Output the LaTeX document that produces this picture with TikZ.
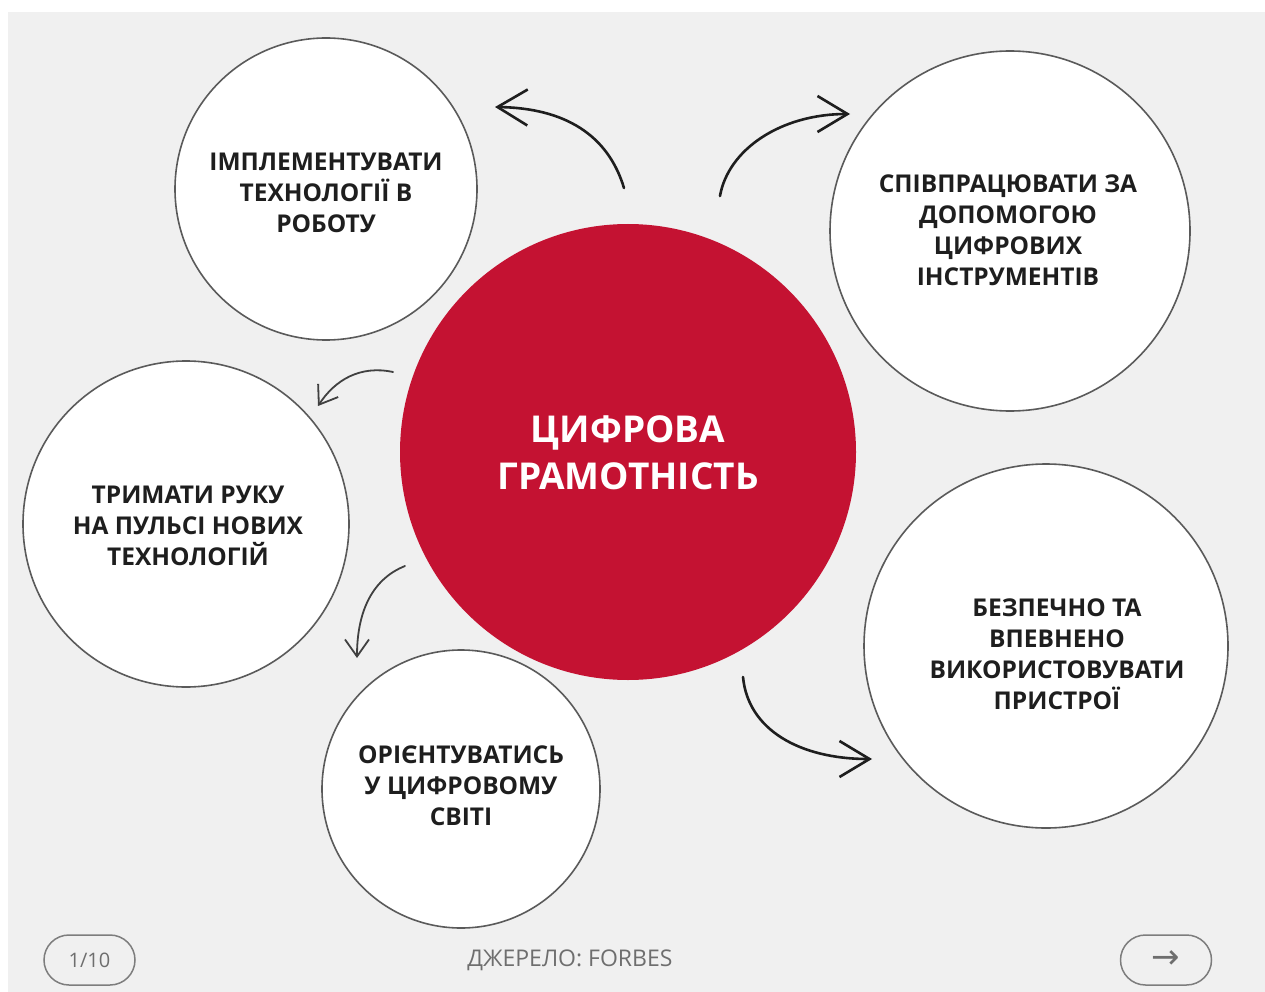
\documentclass[tikz,border=0pt]{standalone}
\usepackage{fontspec}
\setmainfont{Open Sans}
\newfontfamily\symfont{DejaVu Sans}
\usetikzlibrary{arrows.meta}
\definecolor{bgray}{HTML}{F0F0F0}
\definecolor{crim}{HTML}{C41232}
\definecolor{ring}{HTML}{5A5A5A}
\definecolor{ink}{HTML}{1E1E1E}
\definecolor{mute}{HTML}{6E6E6E}
\tikzset{
  bubble/.style={circle, draw=ring, line width=1.6pt, fill=white, inner sep=0pt},
  btext/.style={align=center, text=ink, font=\fontsize{24.5}{31}\selectfont\bfseries},
  bigarrow/.style={draw=ink, line width=2.6pt, line cap=round, -{Straight Barb[length=30pt,width=36pt,line width=2.6pt]}},
  smallarrow/.style={draw=ink!85, line width=1.8pt, line cap=round, -{Straight Barb[length=17pt,width=24pt,line width=1.8pt]}},
  pill/.style={draw=mute!90, line width=1.5pt, rounded corners=25pt, minimum width=91pt, minimum height=50pt, inner sep=0pt, text=mute, font=\fontsize{20}{24}\selectfont}
}
\begin{document}
\begin{tikzpicture}[x=1pt,y=-1pt]
\useasboundingbox (0,0) rectangle (1265,992);
\fill[white] (0,0) rectangle (1265,992);
\fill[bgray] (8,12) rectangle (1265,992);

% circles
\node[bubble, minimum size=302pt] (c1) at (326,189) {};
\node[bubble, minimum size=360pt] (c2) at (1010,231) {};
\node[bubble, minimum size=326pt] (c3) at (186,524) {};
\node[bubble, minimum size=278pt] (c4) at (461,789) {};
\node[bubble, minimum size=364pt] (c5) at (1046,646) {};
\node[circle, fill=crim, minimum size=456pt, inner sep=0pt] (hub) at (628,452) {};

% texts
\node[btext] (t1) at (326,193) {ІМПЛЕМЕНТУВАТИ\\ТЕХНОЛОГІЇ В\\РОБОТУ};
\node[btext] (t2) at (1008,230) {СПІВПРАЦЮВАТИ ЗА\\ДОПОМОГОЮ\\ЦИФРОВИХ\\ІНСТРУМЕНТІВ};
\node[btext] (t3) at (188,526) {ТРИМАТИ РУКУ\\НА ПУЛЬСІ НОВИХ\\ТЕХНОЛОГІЙ};
\node[btext] (t4) at (461,786) {ОРІЄНТУВАТИСЬ\\У ЦИФРОВОМУ\\СВІТІ};
\node[btext] (t5) at (1057,654) {БЕЗПЕЧНО ТА\\ВПЕВНЕНО\\ВИКОРИСТОВУВАТИ\\ПРИСТРОЇ};
\node[align=center, text=white, font=\fontsize{37}{47}\selectfont\bfseries] (ht) at (628,453) {ЦИФРОВА\\ГРАМОТНІСТЬ};

% arrow endpoints
\coordinate (a1s) at (624,188); \coordinate (a1e) at (495,107);
\coordinate (a2s) at (720,196); \coordinate (a2e) at (850,114);
\coordinate (a3s) at (393,372); \coordinate (a3e) at (318,406);
\coordinate (a4s) at (405,566); \coordinate (a4e) at (357,658);
\coordinate (a5s) at (743,677); \coordinate (a5e) at (872,759);

\draw[bigarrow] (a1s) .. controls (608,135) and (565,108) .. (a1e);
\draw[bigarrow] (a2s) .. controls (728,150) and (780,114) .. (a2e);
\draw[smallarrow] (a3s) .. controls (360,365) and (335,380) .. (a3e);
\draw[smallarrow] (a4s) .. controls (370,580) and (357,615) .. (a4e);
\draw[bigarrow] (a5s) .. controls (748,730) and (800,759) .. (a5e);

% bottom bar
\node[pill] (p1) at (89.5,960) {1/10};
\node[pill, font=\symfont\fontsize{34}{36}\selectfont] (p2) at (1166,960) {→};
\node[text=mute, font=\fontsize{23}{26}\selectfont] (src) at (570,960) {ДЖЕРЕЛО: FORBES};
\end{tikzpicture}
\end{document}
